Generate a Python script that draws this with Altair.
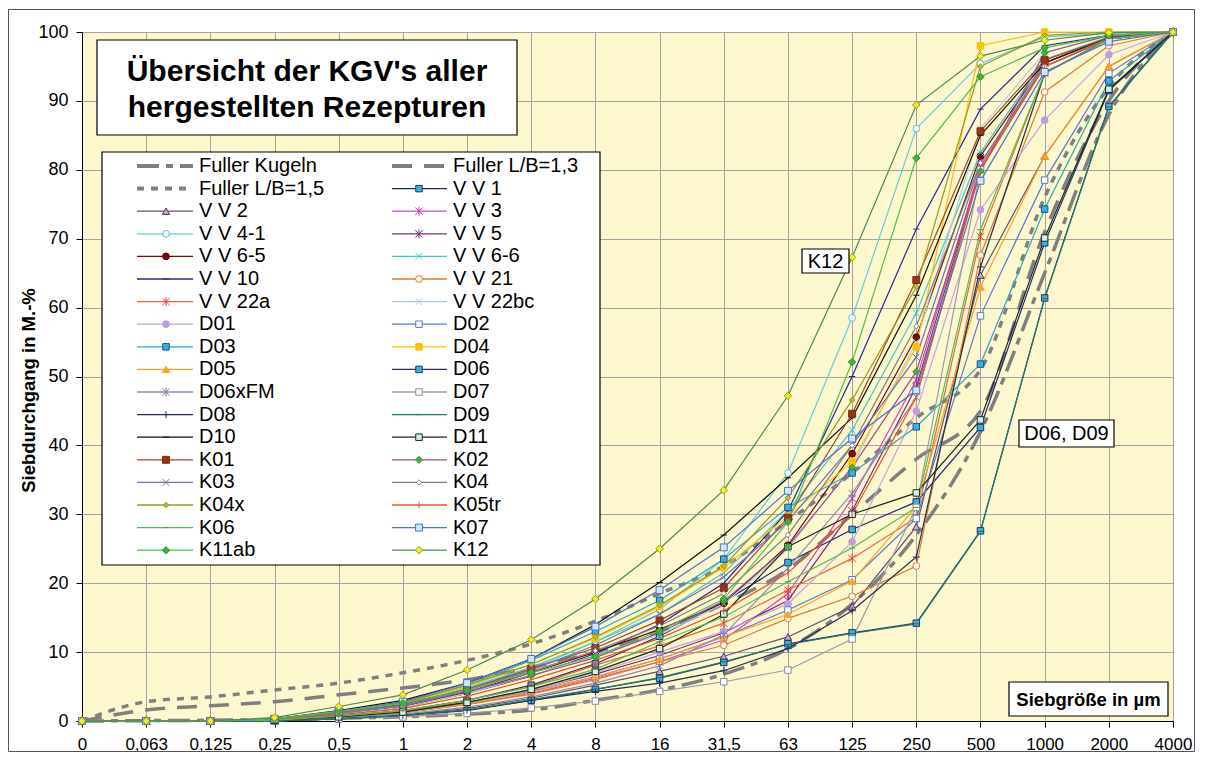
import altair as alt
import pandas as pd

FONT = "Liberation Sans, Arial, sans-serif"

SIZES = ["0", "0,063", "0,125", "0,25", "0,5", "1", "2", "4", "8", "16", "31,5",
         "63", "125", "250", "500", "1000", "2000", "4000"]

# --- Fuller reference curves (Siebdurchgang in M.-%) ---
FULLER_KUGELN = [0, 0.05, 0.1, 0.2, 0.4, 0.6, 1.0, 1.6, 3.0, 4.5, 6.8, 10.5, 17.0, 27.0, 42.0, 65.0, 88.0, 100]
FULLER_LB13 = [0, 1.6, 2.2, 2.8, 3.8, 4.8, 6.0, 7.8, 10.0, 13.0, 17.0, 22.0, 30.0, 38.0, 45.0, 71.0, 90.0, 100]
FULLER_LB15 = [0, 2.8, 3.5, 4.5, 5.5, 7.0, 8.8, 11.2, 14.5, 18.5, 22.5, 29.0, 36.0, 44.0, 51.0, 76.0, 92.0, 100]

# --- recipes ---
VV1 = [0, 0, 0, 0.1, 0.7, 1.5, 3.0, 5.2, 8.3, 12.3, 17.3, 23.0, 27.8, 31.8, 42.6, 69.4, 91.5, 100]
VV2 = [0, 0, 0, 0, 0.4, 0.9, 1.8, 3.3, 5.2, 7.2, 9.4, 12.2, 16.6, 28.2, 64.7, 82.0, 95.0, 100]
VV3 = [0, 0, 0, 0.1, 0.6, 1.2, 2.4, 4.0, 6.2, 8.6, 11.8, 18.5, 32.3, 49.5, 80.5, 95.0, 99.0, 100]
VV4_1 = [0, 0, 0, 0.2, 1.1, 2.2, 4.6, 7.5, 11.5, 16.2, 23.5, 36.0, 58.5, 86.0, 95.4, 99.3, 99.8, 100]
VV5 = [0, 0, 0, 0.1, 0.7, 1.4, 2.7, 4.5, 6.8, 9.5, 12.8, 17.5, 30.5, 48.5, 80.0, 95.5, 99.2, 100]
VV6_5 = [0, 0, 0, 0.2, 1.1, 2.1, 4.2, 7.0, 10.0, 13.3, 17.1, 25.5, 38.8, 55.7, 82.0, 95.5, 99.2, 100]
VV6_6 = [0, 0, 0, 0.2, 1.2, 2.3, 4.8, 7.8, 11.5, 15.5, 21.5, 30.5, 42.2, 59.2, 82.5, 96.0, 99.3, 100]
VV10 = [0, 0, 0, 0.2, 1.0, 2.0, 4.0, 6.5, 9.8, 14.0, 20.0, 30.5, 50.0, 71.4, 88.8, 98.0, 99.5, 100]
VV21 = [0, 0, 0, 0.1, 0.6, 1.2, 2.4, 3.9, 6.0, 8.6, 11.0, 14.9, 18.1, 22.5, 67.6, 91.3, 98.0, 100]
VV22A = [0, 0, 0, 0.1, 0.7, 1.5, 3.0, 5.0, 8.1, 10.9, 14.2, 19.0, 23.6, 29.5, 70.3, 94.0, 99.0, 100]
VV22BC = [0, 0, 0, 0.2, 1.0, 2.0, 4.0, 6.6, 9.5, 12.5, 17.0, 25.0, 37.0, 55.0, 86.0, 97.0, 99.5, 100]
D01 = [0, 0, 0, 0.1, 0.6, 1.3, 2.6, 4.4, 7.0, 10.0, 13.0, 17.0, 26.0, 45.0, 74.2, 87.2, 96.7, 100]
D02 = [0, 0, 0, 0.1, 0.6, 1.2, 2.5, 4.3, 6.4, 9.0, 12.2, 16.1, 20.5, 29.4, 58.8, 78.5, 94.0, 100]
D03 = [0, 0, 0, 0.3, 1.4, 2.7, 5.2, 8.8, 13.0, 17.5, 23.5, 31.0, 36.0, 42.7, 51.8, 74.3, 92.9, 100]
D04 = [0, 0, 0, 0.3, 1.3, 2.6, 5.0, 8.2, 12.0, 16.6, 22.3, 29.7, 37.6, 54.3, 98.0, 100, 100, 100]
D05 = [0, 0, 0, 0.1, 0.6, 1.2, 2.5, 4.2, 6.4, 9.0, 12.2, 15.5, 20.3, 31.1, 63.0, 82.0, 95.0, 100]
D06 = [0, 0, 0, 0, 0.3, 0.8, 1.5, 3.0, 4.6, 6.2, 8.5, 11.2, 12.8, 14.2, 27.6, 61.4, 89.2, 100]
D06XFM = [0, 0, 0, 0.1, 0.5, 1.0, 2.0, 3.5, 5.5, 8.0, 12.5, 22.2, 33.0, 47.0, 80.0, 95.5, 99.0, 100]
D07 = [0, 0, 0, 0, 0.3, 0.6, 1.1, 1.9, 2.9, 4.3, 5.7, 7.4, 11.9, 31.0, 80.0, 96.0, 99.0, 100]
D08 = [0, 0, 0, 0, 0.3, 0.8, 1.6, 3.0, 4.3, 5.5, 7.3, 10.5, 16.0, 23.8, 65.9, 94.0, 99.0, 100]
D09 = [0, 0, 0, 0, 0.3, 0.8, 1.6, 3.1, 4.6, 6.3, 8.6, 11.1, 12.7, 14.1, 27.5, 61.3, 89.1, 100]
D10 = [0, 0, 0, 0.3, 1.5, 3.0, 5.5, 9.0, 14.0, 20.1, 27.0, 35.3, 44.0, 61.8, 85.0, 95.5, 99.2, 100]
D11 = [0, 0, 0, 0.1, 0.6, 1.3, 2.7, 4.6, 7.2, 10.5, 15.5, 25.3, 30.0, 33.1, 43.7, 70.1, 91.7, 100]
K01 = [0, 0, 0, 0.3, 1.3, 2.4, 4.6, 7.6, 10.6, 14.6, 19.3, 29.5, 44.6, 64.0, 85.6, 95.9, 99.2, 100]
K02 = [0, 0, 0, 0.2, 1.1, 2.2, 4.3, 6.6, 9.2, 12.8, 17.4, 25.3, 36.8, 50.7, 79.8, 97.0, 99.5, 100]
K03 = [0, 0, 0, 0.2, 1.2, 2.3, 4.5, 7.4, 11.0, 15.5, 20.9, 29.0, 40.0, 52.8, 81.0, 95.0, 99.0, 100]
K04 = [0, 0, 0, 0.2, 1.1, 2.2, 4.5, 7.2, 10.2, 13.8, 18.5, 27.0, 40.0, 57.3, 81.0, 95.0, 99.0, 100]
K04X = [0, 0, 0, 0.3, 1.4, 2.6, 5.2, 8.2, 12.2, 16.8, 22.5, 32.4, 46.6, 63.0, 95.0, 99.5, 100, 100]
K05TR = [0, 0, 0, 0.2, 0.9, 1.8, 3.6, 6.0, 8.8, 12.0, 16.0, 21.5, 30.0, 47.0, 80.0, 95.0, 99.0, 100]
K06 = [0, 0, 0, 0.1, 0.7, 1.5, 3.0, 5.0, 7.5, 11.5, 15.1, 20.2, 25.1, 31.0, 71.3, 94.0, 99.0, 100]
K07 = [0, 0, 0, 0.3, 1.4, 2.8, 5.5, 9.0, 13.7, 19.0, 25.2, 33.4, 41.0, 48.0, 78.4, 94.2, 98.6, 100]
K11AB = [0, 0, 0, 0.3, 1.4, 2.6, 4.5, 7.0, 9.4, 13.1, 17.7, 28.9, 52.1, 81.7, 93.5, 97.7, 99.5, 100]
K12 = [0, 0, 0, 0.5, 2.1, 3.8, 7.4, 11.8, 17.7, 25.0, 33.5, 47.2, 67.3, 89.4, 96.5, 98.8, 99.9, 100]

STAR = "M-1,-1L1,1M-1,1L1,-1M0,-1.2L0,1.2"
XMARK = "M-1,-1L1,1M-1,1L1,-1"
DASH = "M-1,0L1,0"
PLUS = "M-1,0L1,0M0,-1L0,1"
BAR = "M0,-1L0,1"

# name, values, line colour, marker shape, marker fill, marker stroke, marker size
SERIES = [
    ("V V 1", VV1, "#1B2A78", "square", "#33B5D6", "#1B2A78", 42),
    ("V V 2", VV2, "#5E4F7A", "triangle-up", "#C9A3D6", "#4A3A66", 55),
    ("V V 3", VV3, "#D444C4", STAR, "#D444C4", "#C030B0", 55),
    ("V V 4-1", VV4_1, "#62CCDD", "circle", "#FFFFFF", "#4CC0D8", 45),
    ("V V 5", VV5, "#7E2C78", STAR, "#7E2C78", "#7E2C78", 55),
    ("V V 6-5", VV6_5, "#7A0A0A", "circle", "#7A0A0A", "#5A0000", 45),
    ("V V 6-6", VV6_6, "#3CC8D0", XMARK, "#3CC8D0", "#3CC8D0", 45),
    ("V V 10", VV10, "#26269A", DASH, "#26269A", "#26269A", 40),
    ("V V 21", VV21, "#E07A30", "circle", "#FFFFFF", "#E07A30", 45),
    ("V V 22a", VV22A, "#F0603C", STAR, "#F04030", "#F04030", 55),
    ("V V 22bc", VV22BC, "#A9CDEE", XMARK, "#A0C8EE", "#A0C8EE", 45),
    ("D01", D01, "#C6A3E0", "circle", "#C29AE0", "#C29AE0", 45),
    ("D02", D02, "#5A78D2", "square", "#FFFFFF", "#5A78D2", 42),
    ("D03", D03, "#2FA8C4", "square", "#33B5D6", "#1F4A9A", 42),
    ("D04", D04, "#FFC000", "square", "#FFC000", "#FFC000", 42),
    ("D05", D05, "#FFA21E", "triangle-up", "#FFA21E", "#FFA21E", 55),
    ("D06", D06, "#2E2E6E", "square", "#33B5D6", "#2E2E6E", 42),
    ("D06xFM", D06XFM, "#8E8CB4", STAR, "#7E7CA8", "#7E7CA8", 50),
    ("D07", D07, "#9A9AAE", "square", "#FFFFFF", "#8A8AA0", 42),
    ("D08", D08, "#1E2F4F", PLUS, "#1E2F4F", "#1E2F4F", 50),
    ("D09", D09, "#1E7E6E", DASH, "#1E6E5E", "#1E6E5E", 40),
    ("D10", D10, "#111111", DASH, "#111111", "#111111", 40),
    ("D11", D11, "#1A2A1A", "square", "#CFEFEF", "#1A2A1A", 42),
    ("K01", K01, "#A8451E", "square", "#98341A", "#7A2A10", 48),
    ("K02", K02, "#A0508C", "diamond", "#3FB33F", "#2E9A2E", 50),
    ("K03", K03, "#6E6EC2", XMARK, "#6E6EC2", "#6E6EC2", 45),
    ("K04", K04, "#7C807C", "diamond", "#FFFFFF", "#7C807C", 28),
    ("K04x", K04X, "#9A9A1E", "diamond", "#B8C030", "#8A9A20", 30),
    ("K05tr", K05TR, "#F05020", BAR, "#F05020", "#F05020", 45),
    ("K06", K06, "#4FC04F", DASH, "#3FA03F", "#3FA03F", 40),
    ("K07", K07, "#4A72CE", "square", "#CDE6F8", "#4A72CE", 48),
    ("K11ab", K11AB, "#4DBF4D", "diamond", "#3DB33D", "#2E9A2E", 55),
    ("K12", K12, "#4E8A4E", "diamond", "#F0F020", "#9A9A10", 55),
]

FULLER = [
    ("Fuller Kugeln", FULLER_KUGELN, [22, 7, 7, 7]),
    ("Fuller L/B=1,3", FULLER_LB13, [20, 12]),
    ("Fuller L/B=1,5", FULLER_LB15, [7, 7]),
]

# ---------------- geometry helpers (pixel -> data units, for annotations) ----
PLOT_W, PLOT_H = 1091, 689
LEFT, TOP = 82, 32
NCAT = len(SIZES) - 1


def dx(px):
    return (px - LEFT) / (PLOT_W / NCAT)


def dy(py):
    return (TOP + PLOT_H - py) / (PLOT_H / 100.0)


xscale = alt.Scale(domain=[0, NCAT], nice=False, zero=False)
yscale = alt.Scale(domain=[0, 100], nice=False, zero=False)

label_expr = "[" + ",".join("'" + s + "'" for s in SIZES) + "][datum.value]"

xaxis = alt.Axis(values=list(range(len(SIZES))), labelExpr=label_expr, title="",
                 grid=True, gridColor="#A3A3A3", gridWidth=1,
                 domainColor="#000000", domainWidth=1, tickColor="#000000",
                 tickSize=6, labelFontSize=17, labelFont=FONT, labelColor="#000000",
                 labelPadding=9, labelAngle=0, labelFlush=False, labelOverlap=False)
yaxis = alt.Axis(values=list(range(0, 101, 10)), title="Siebdurchgang in M.-%",
                 grid=True, gridColor="#A3A3A3", gridWidth=1,
                 domainColor="#000000", domainWidth=1, tickColor="#000000",
                 tickSize=6, labelFontSize=18, labelFont=FONT, labelColor="#000000",
                 labelPadding=8, labelFlush=False,
                 titleFont=FONT, titleFontSize=18.5, titleFontWeight="bold",
                 titleColor="#000000", titleAngle=-90, titleX=-54, titleY=358,
                 titleAlign="center", titleBaseline="middle")


def X(field):
    return alt.X(field, scale=xscale, axis=xaxis)


def Y(field):
    return alt.Y(field, scale=yscale, axis=yaxis)


# ---------------- data tables ----------------
rows = []
for name, vals, line, shape, fill, stroke, size in SERIES:
    for i, v in enumerate(vals):
        rows.append(dict(name=name, x=i, y=v, line=line, shape=shape,
                         fill=fill, stroke=stroke, size=size))
df_series = pd.DataFrame(rows)

layers = []

# Fuller curves
for name, vals, dash in FULLER:
    df = pd.DataFrame({"x": list(range(len(vals))), "y": vals})
    layers.append(alt.Chart(df).mark_line(color="#7F7F7F", strokeWidth=3.5,
                                          strokeDash=dash, interpolate="monotone")
                  .encode(x=X("x:Q"), y=Y("y:Q")))

# recipe lines
layers.append(alt.Chart(df_series).mark_line(strokeWidth=1.2)
              .encode(x=X("x:Q"), y=Y("y:Q"),
                      color=alt.Color("line:N", scale=None, legend=None),
                      detail="name:N"))
# recipe markers
layers.append(alt.Chart(df_series).mark_point(filled=True, opacity=1, strokeWidth=1)
              .encode(x=X("x:Q"), y=Y("y:Q"),
                      shape=alt.Shape("shape:N", scale=None, legend=None),
                      fill=alt.Fill("fill:N", scale=None, legend=None),
                      stroke=alt.Stroke("stroke:N", scale=None, legend=None),
                      size=alt.Size("size:Q", scale=None, legend=None)))

# ---------------- boxes ----------------
boxes = pd.DataFrame([
    dict(x1=dx(97), x2=dx(517), y1=dy(40), y2=dy(135)),     # title
    dict(x1=dx(102), x2=dx(600), y1=dy(152), y2=dy(565)),   # legend
    dict(x1=dx(802), x2=dx(849), y1=dy(249), y2=dy(273)),   # K12
    dict(x1=dx(1019), x2=dx(1114), y1=dy(420), y2=dy(447)), # D06, D09
    dict(x1=dx(1009), x2=dx(1168), y1=dy(682), y2=dy(716)), # Siebgroesse
])
layers.append(alt.Chart(boxes).mark_rect(fill="#FFFFFF", stroke="#000000", strokeWidth=1.2)
              .encode(x=X("x1:Q"), x2="x2", y=Y("y1:Q"), y2="y2"))

# title text
title_df = pd.DataFrame([
    dict(x=dx(307), y=dy(72), t="Übersicht der KGV's aller"),
    dict(x=dx(307), y=dy(108), t="hergestellten Rezepturen"),
])
layers.append(alt.Chart(title_df).mark_text(font=FONT, fontSize=30, fontWeight="bold",
                                            color="#000000", align="center", baseline="middle")
              .encode(x=X("x:Q"), y=Y("y:Q"), text="t:N"))

# annotation labels
ann_df = pd.DataFrame([
    dict(x=dx(825.5), y=dy(261.5), t="K12"),
    dict(x=dx(1066.5), y=dy(434), t="D06, D09"),
])
layers.append(alt.Chart(ann_df).mark_text(font=FONT, fontSize=20, color="#000000",
                                          align="center", baseline="middle")
              .encode(x=X("x:Q"), y=Y("y:Q"), text="t:N"))
ax_df = pd.DataFrame([dict(x=dx(1088.5), y=dy(699.5), t="Siebgröße in µm")])
layers.append(alt.Chart(ax_df).mark_text(font=FONT, fontSize=18.5, fontWeight="bold",
                                         color="#000000", align="center", baseline="middle")
              .encode(x=X("x:Q"), y=Y("y:Q"), text="t:N"))

# ---------------- custom legend ----------------
LEG_ORDER = [f[0] for f in FULLER[:2]] + [FULLER[2][0]] + [s[0] for s in SERIES]
COLS = [(137, 193, 166, 199), (392, 447, 419, 453)]


def leg_pos(k):
    col = k % 2
    row = k // 2
    x1, x2, xm, xt = COLS[col]
    py = 166 + row * 22.6
    return dict(x1=dx(x1), x2=dx(x2), xm=dx(xm), xt=dx(xt), y=dy(py))


leg_rows = []
for k, name in enumerate(LEG_ORDER):
    d = leg_pos(k)
    d["name"] = name
    leg_rows.append(d)
leg_df = pd.DataFrame(leg_rows)

for name, vals, dash in FULLER:
    sub = leg_df[leg_df["name"] == name]
    layers.append(alt.Chart(sub).mark_rule(color="#7F7F7F", strokeWidth=4, strokeDash=dash)
                  .encode(x=X("x1:Q"), x2="x2", y=Y("y:Q")))

style = {s[0]: s for s in SERIES}
leg_s = leg_df[leg_df["name"].isin(style.keys())].copy()
leg_s["line"] = leg_s["name"].map(lambda n: style[n][2])
leg_s["shape"] = leg_s["name"].map(lambda n: style[n][3])
leg_s["fill"] = leg_s["name"].map(lambda n: style[n][4])
leg_s["stroke"] = leg_s["name"].map(lambda n: style[n][5])
leg_s["size"] = leg_s["name"].map(lambda n: style[n][6])

layers.append(alt.Chart(leg_s).mark_rule(strokeWidth=1.3)
              .encode(x=X("x1:Q"), x2="x2", y=Y("y:Q"),
                      color=alt.Color("line:N", scale=None, legend=None)))
layers.append(alt.Chart(leg_s).mark_point(filled=True, opacity=1, strokeWidth=1)
              .encode(x=X("xm:Q"), y=Y("y:Q"),
                      shape=alt.Shape("shape:N", scale=None, legend=None),
                      fill=alt.Fill("fill:N", scale=None, legend=None),
                      stroke=alt.Stroke("stroke:N", scale=None, legend=None),
                      size=alt.Size("size:Q", scale=None, legend=None)))
layers.append(alt.Chart(leg_df).mark_text(font=FONT, fontSize=20, color="#000000",
                                          align="left", baseline="middle")
              .encode(x=X("xt:Q"), y=Y("y:Q"), text="name:N"))

# outer chart border
frame = pd.DataFrame({"a": [0]})
layers.append(alt.Chart(frame).mark_rect(filled=False, stroke="#555555", strokeWidth=1)
              .encode(x=alt.value(-73.5), x2=alt.value(1112.5),
                      y=alt.value(-22.5), y2=alt.value(719.5)))

chart = alt.layer(*layers).properties(
    width=PLOT_W, height=PLOT_H,
    autosize=alt.AutoSizeParams(type="none"),
    padding={"left": 74, "top": 24, "right": 22, "bottom": 34},
    background="#FFFFFF",
).configure_view(fill="#FCF7CD", strokeWidth=0)

chart.save("out.html", embed_options={"renderer": "svg", "actions": False})
